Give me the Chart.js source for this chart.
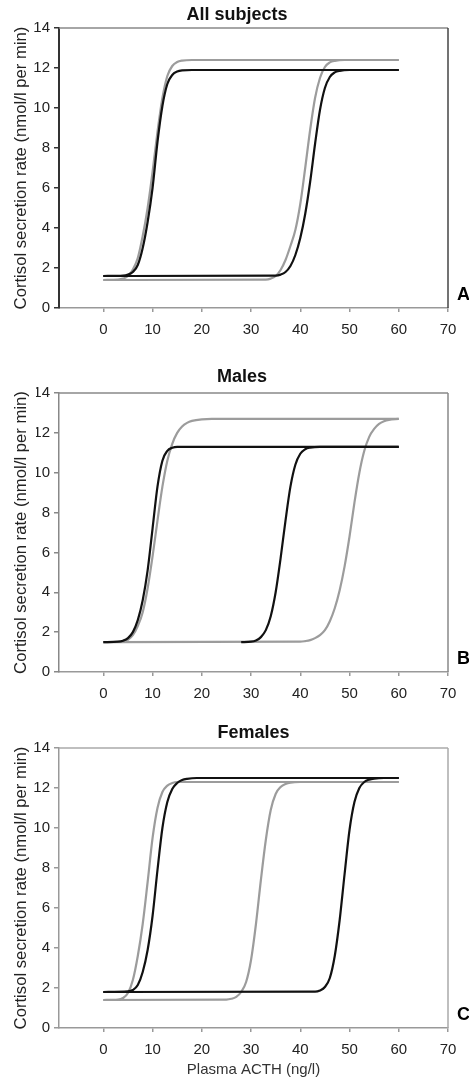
<!DOCTYPE html>
<html>
<head>
<meta charset="utf-8">
<script src="https://cdn.jsdelivr.net/npm/chart.js@4.4.0/dist/chart.umd.min.js"></script>
<style>
  body { margin: 0; background: #fff; }
  canvas { display: block; }
</style>
</head>
<body>
<canvas id="chartA" width="469" height="345"></canvas>
<canvas id="chartB" width="469" height="365"></canvas>
<canvas id="chartC" width="469" height="371"></canvas>
<script>
// Axis ticks
const xTicks = [0, 10, 20, 30, 40, 50, 60, 70];
const yTicks = [0, 2, 4, 6, 8, 10, 12, 14];

// A - All subjects
const allBlack1X = [0, 4, 5, 6, 7, 8, 9, 10, 11, 12, 13, 14, 15, 16, 18, 60];
const allBlack1Y = [1.6, 1.62, 1.67, 1.8, 2.15, 3.0, 4.3, 6.0, 8.3, 10.1, 11.2, 11.65, 11.82, 11.88, 11.9, 11.9];
const allGray1X = [0, 3, 4, 5, 6, 7, 8, 9, 10, 11, 12, 13, 14, 15, 16, 18, 60];
const allGray1Y = [1.4, 1.42, 1.47, 1.6, 1.92, 2.5, 3.6, 5.0, 6.8, 8.8, 10.5, 11.6, 12.1, 12.3, 12.37, 12.4, 12.4];
const allBlack2X = [0, 35, 36, 37, 38, 39, 40, 41, 42, 43, 44, 45, 46, 47, 48, 50, 60];
const allBlack2Y = [1.6, 1.62, 1.67, 1.8, 2.1, 2.65, 3.5, 4.7, 6.3, 8.2, 9.9, 11.0, 11.55, 11.78, 11.86, 11.9, 11.9];
const allGray2X = [0, 33, 34, 35, 36, 37, 38, 39, 40, 41, 42, 43, 44, 45, 46, 47, 49, 60];
const allGray2Y = [1.4, 1.42, 1.47, 1.6, 1.9, 2.4, 3.1, 3.9, 5.2, 7.0, 8.9, 10.5, 11.5, 12.05, 12.28, 12.36, 12.4, 12.4];

// B - Males
const maleBlack1X = [0, 3, 4, 5, 6, 7, 8, 9, 10, 11, 12, 13, 14, 15, 60];
const maleBlack1Y = [1.5, 1.52, 1.57, 1.7, 2.0, 2.6, 3.6, 5.1, 7.2, 9.3, 10.6, 11.1, 11.25, 11.3, 11.3];
const maleGray1X = [0, 4, 5, 6, 7, 8, 9, 10, 11, 12, 13, 14, 15, 16, 17, 18, 20, 22, 60];
const maleGray1Y = [1.5, 1.53, 1.62, 1.85, 2.3, 3.0, 4.2, 5.8, 7.6, 9.3, 10.6, 11.45, 12.0, 12.32, 12.5, 12.6, 12.68, 12.7, 12.7];
const maleBlack2X = [28, 30, 31, 32, 33, 34, 35, 36, 37, 38, 39, 40, 41, 42, 44, 60];
const maleBlack2Y = [1.5, 1.52, 1.58, 1.75, 2.1, 2.8, 4.0, 5.7, 7.6, 9.3, 10.4, 10.95, 11.18, 11.26, 11.3, 11.3];
const maleGray2X = [0, 40, 41, 42, 43, 44, 45, 46, 47, 48, 49, 50, 51, 52, 53, 54, 55, 56, 57, 58, 60];
const maleGray2Y = [1.5, 1.52, 1.55, 1.6, 1.7, 1.85, 2.1, 2.55, 3.2, 4.1, 5.3, 6.8, 8.5, 10.0, 11.1, 11.8, 12.2, 12.45, 12.58, 12.65, 12.7];

// C - Females
const femBlack1X = [0, 5, 6, 7, 8, 9, 10, 11, 12, 13, 14, 15, 16, 17, 19, 60];
const femBlack1Y = [1.8, 1.83, 1.9, 2.15, 2.8, 3.9, 5.6, 7.9, 10.0, 11.3, 11.95, 12.25, 12.4, 12.46, 12.5, 12.5];
const femGray1X = [0, 3, 4, 5, 6, 7, 8, 9, 10, 11, 12, 13, 14, 15, 60];
const femGray1Y = [1.4, 1.42, 1.5, 1.75, 2.4, 3.6, 5.2, 7.3, 9.5, 11.0, 11.8, 12.12, 12.25, 12.3, 12.3];
const femBlack2X = [0, 43, 44, 45, 46, 47, 48, 49, 50, 51, 52, 53, 54, 55, 57, 60];
const femBlack2Y = [1.8, 1.82, 1.88, 2.05, 2.5, 3.6, 5.4, 7.7, 9.9, 11.3, 12.0, 12.3, 12.42, 12.47, 12.5, 12.5];
const femGray2X = [0, 25, 26, 27, 28, 29, 30, 31, 32, 33, 34, 35, 36, 37, 38, 40, 60];
const femGray2Y = [1.4, 1.42, 1.46, 1.56, 1.8, 2.3, 3.4, 5.2, 7.4, 9.4, 10.9, 11.7, 12.05, 12.2, 12.27, 12.3, 12.3];

const FONT = '"Liberation Sans", Arial, sans-serif';
const BLACK = '#111111';
const GRAY = '#9c9c9c';
const PLOT_LEFT = 59;

// top + right edge of the box, and the panel letter
const framePlugin = {
    id: 'frame',
    afterDraw(chart, args, opts) {
        const ctx = chart.ctx;
        const a = chart.chartArea;
        ctx.save();
        ctx.lineWidth = 1.5;
        ctx.strokeStyle = opts.top;
        ctx.beginPath();
        ctx.moveTo(a.left, a.top);
        ctx.lineTo(a.right, a.top);
        ctx.stroke();
        ctx.strokeStyle = opts.right;
        ctx.beginPath();
        ctx.moveTo(a.right, a.top);
        ctx.lineTo(a.right, a.bottom);
        ctx.stroke();
        ctx.fillStyle = '#000';
        ctx.font = 'bold 18px ' + FONT;
        ctx.textBaseline = 'middle';
        ctx.fillText(opts.letter, a.right + 9, a.bottom - 13);
        ctx.restore();
    }
};

function line(xs, ys, color) {
    return {
        data: xs.map((x, i) => ({ x: x, y: ys[i] })),
        borderColor: color,
        borderWidth: 2.2,
        pointRadius: 0,
        fill: false,
        cubicInterpolationMode: 'monotone'
    };
}

function makeChart(id, p) {
    const cv = document.getElementById(id);
    // left padding shifts the centred title; the y axis box fills the rest up to the plot edge
    const padLeft = p.titleCenter ? p.titleCenter * 2 - 448 : 0;
    return new Chart(cv.getContext('2d'), {
        type: 'line',
        data: { datasets: p.datasets },
        options: {
            responsive: false,
            animation: false,
            devicePixelRatio: 1,
            layout: { padding: { left: padLeft, right: 21, top: 0, bottom: 0 } },
            plugins: {
                legend: { display: false },
                tooltip: { enabled: false },
                title: {
                    display: true,
                    text: p.title,
                    fullSize: !!p.titleCenter,
                    color: '#111',
                    font: { family: FONT, size: 18, weight: 'bold' },
                    padding: { top: p.titleTop, bottom: p.titleBottom }
                },
                frame: { top: p.topColor, right: p.rightColor, letter: p.letter }
            },
            scales: {
                x: {
                    type: 'linear',
                    min: -9,
                    max: 70,
                    afterBuildTicks: s => { s.ticks = xTicks.map(v => ({ value: v })); },
                    afterFit: s => { s.height = cv.height - p.plotBottom; },
                    border: { color: p.bottomColor, width: 1.5 },
                    grid: { drawOnChartArea: false, tickLength: 4, color: p.bottomColor, lineWidth: 1.5 },
                    ticks: { color: '#222', padding: 9, font: { family: FONT, size: 15 } },
                    title: {
                        display: !!p.xTitle,
                        text: p.xTitle || '',
                        color: '#333',
                        font: { family: FONT, size: 15 },
                        padding: { top: 0, bottom: 2 }
                    }
                },
                y: {
                    min: 0,
                    max: 14,
                    afterBuildTicks: s => { s.ticks = yTicks.map(v => ({ value: v })); },
                    afterFit: s => { s.width = PLOT_LEFT - padLeft; },
                    border: { color: p.leftColor, width: p.leftWidth },
                    grid: { drawOnChartArea: false, tickLength: 5, color: p.leftColor, lineWidth: 1.5 },
                    ticks: { color: '#222', padding: 4, font: { family: FONT, size: 15 } },
                    title: {
                        display: true,
                        text: 'Cortisol secretion rate (nmol/l per min)',
                        color: '#222',
                        font: { family: FONT, size: 16.7 },
                        padding: { top: 11 - padLeft, bottom: 0 }
                    }
                }
            }
        },
        plugins: [framePlugin]
    });
}

makeChart('chartA', {
    title: 'All subjects', letter: 'A', titleCenter: 237,
    titleTop: 4.2, titleBottom: 2.2, plotBottom: 308,
    leftColor: '#333', leftWidth: 2, bottomColor: '#999', topColor: '#888', rightColor: '#444',
    datasets: [
        line(allBlack1X, allBlack1Y, BLACK),
        line(allBlack2X, allBlack2Y, BLACK),
        line(allGray1X, allGray1Y, GRAY),
        line(allGray2X, allGray2Y, GRAY)
    ]
});

makeChart('chartB', {
    title: 'Males', letter: 'B', titleCenter: 242,
    titleTop: 21.2, titleBottom: 5.2, plotBottom: 327,
    leftColor: '#888', leftWidth: 1.5, bottomColor: '#999', topColor: '#888', rightColor: '#888',
    datasets: [
        line(maleBlack1X, maleBlack1Y, BLACK),
        line(maleBlack2X, maleBlack2Y, BLACK),
        line(maleGray1X, maleGray1Y, GRAY),
        line(maleGray2X, maleGray2Y, GRAY)
    ]
});

// Females title sits over the plot area itself
makeChart('chartC', {
    title: 'Females', letter: 'C',
    titleTop: 12.2, titleBottom: 4.2, plotBottom: 318, xTitle: 'Plasma ACTH (ng/l)',
    leftColor: '#999', leftWidth: 1.5, bottomColor: '#999', topColor: '#aaa', rightColor: '#aaa',
    datasets: [
        line(femBlack1X, femBlack1Y, BLACK),
        line(femBlack2X, femBlack2Y, BLACK),
        line(femGray1X, femGray1Y, GRAY),
        line(femGray2X, femGray2Y, GRAY)
    ]
});
</script>
</body>
</html>
